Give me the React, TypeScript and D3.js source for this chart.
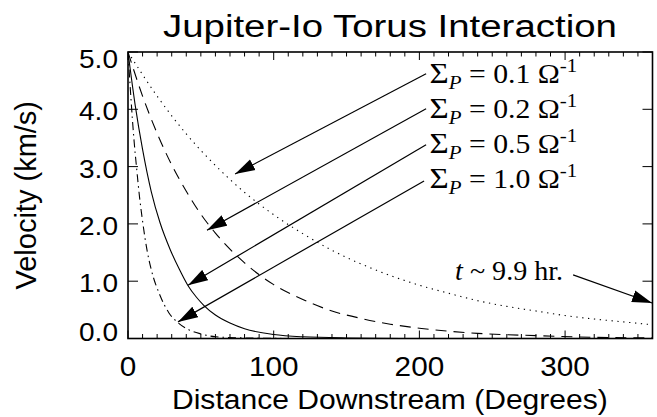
import React, { useRef, useEffect } from "react";
import * as d3 from "d3";

// chart text
const titleText = "Jupiter-Io Torus Interaction";
const xLabelText = "Distance Downstream (Degrees)";
const yLabelText = "Velocity (km/s)";

// axes
const xTicks = [0, 100, 200, 300];
const yTicks = [0, 1, 2, 3, 4, 5];
const yTickLabels = ["0.0", "1.0", "2.0", "3.0", "4.0", "5.0"];

// curves (degrees, km/s)
const dist01 = [0, 20, 40, 60, 80, 100, 120, 140, 160, 180, 200, 220, 240, 260, 280, 300, 320, 340, 360];
const vel01 = [5.0, 4.23, 3.57, 3.02, 2.55, 2.16, 1.83, 1.54, 1.3, 1.1, 0.93, 0.79, 0.66, 0.56, 0.48, 0.4, 0.34, 0.29, 0.24];

const dist02 = [0, 10, 20, 30, 40, 50, 60, 80, 100, 120, 140, 160, 180, 200, 240, 280, 320, 360];
const vel02 = [5.0, 4.23, 3.58, 3.03, 2.57, 2.17, 1.84, 1.32, 0.94, 0.68, 0.48, 0.35, 0.25, 0.18, 0.09, 0.05, 0.02, 0.01];

const dist05 = [0, 5, 10, 16, 22, 29, 35, 41, 47, 52, 60, 70, 80, 100, 120, 150, 200, 360];
const vel05 = [5.0, 4.06, 3.3, 2.56, 2.02, 1.55, 1.22, 0.93, 0.72, 0.58, 0.41, 0.27, 0.17, 0.07, 0.03, 0.01, 0.0, 0.0];

const dist10 = [0, 2, 4, 6, 8, 10, 13, 16, 22, 28, 34.6, 42, 50, 60, 80, 120, 360];
const vel10 = [5.0, 4.2, 3.5, 2.95, 2.45, 2.05, 1.55, 1.2, 0.75, 0.45, 0.27, 0.15, 0.08, 0.03, 0.01, 0.0, 0.0];

const sigmaValues = ["0.1", "0.2", "0.5", "1.0"];

// annotation anchors in data units
const labelDist = 207;
const labelVel = [4.46, 3.85, 3.24, 2.63];
const arrowFrom = [[204.6, 4.62], [204.6, 4.01], [204.6, 3.38], [203.2, 2.75]];
const arrowTo = [[73.5, 2.87], [54.2, 1.89], [41.2, 0.93], [34.3, 0.29]];

const timeLabel = [224.5, 1.02];
const timeArrowFrom = [305.5, 1.11];
const timeArrowTo = [359.7, 0.62];

const series = [
  { dist: dist01, vel: vel01, dash: "1.3 4.6" },
  { dist: dist02, vel: vel02, dash: "11 7" },
  { dist: dist05, vel: vel05, dash: null },
  { dist: dist10, vel: vel10, dash: "8 4 1.5 4" },
];

// stretch a text element horizontally so it covers `target` px, anchored at (ax, ay)
function fitWidth(sel, target, ax, ay, anchor) {
  const node = sel.node();
  const w = node.getComputedTextLength();
  const k = w > 0 ? target / w : 1;
  sel
    .attr("x", 0)
    .attr("y", 0)
    .attr("text-anchor", anchor || "start")
    .attr("transform", `translate(${ax}, ${ay}) scale(${k}, 1)`);
}

const App = () => {
  const d3Container = useRef(null);
  const width = 657;
  const height = 417;

  useEffect(() => {
    if (!d3Container.current) return;
    const svg = d3.select(d3Container.current);
    svg.selectAll("*").remove();

    const margins = { left: 128, right: 4.5, top: 52, bottom: 78.5 };
    const x = d3.scaleLinear().domain([0, 360]).range([margins.left, width - margins.right]);
    const y = d3.scaleLinear().domain([0, 5]).range([height - margins.bottom, margins.top]);
    const sans = "'Liberation Sans', Arial, Helvetica, sans-serif";
    const serif = "'Liberation Serif', 'Times New Roman', serif";

    const defs = svg.append("defs");
    defs
      .append("clipPath")
      .attr("id", "plot-clip")
      .append("rect")
      .attr("x", x(0))
      .attr("y", y(5))
      .attr("width", x(360) - x(0))
      .attr("height", y(0) - y(5));
    defs
      .append("marker")
      .attr("id", "arrowhead")
      .attr("markerUnits", "userSpaceOnUse")
      .attr("markerWidth", 21)
      .attr("markerHeight", 13)
      .attr("refX", 20)
      .attr("refY", 6.5)
      .attr("orient", "auto")
      .append("path")
      .attr("d", "M0,0.5 L20,6.5 L0,12.5 Z")
      .attr("fill", "black");

    // curves
    const line = d3
      .line()
      .x((d) => x(d[0]))
      .y((d) => y(d[1]))
      .curve(d3.curveMonotoneX);

    svg
      .append("g")
      .attr("clip-path", "url(#plot-clip)")
      .selectAll("path")
      .data(series)
      .join("path")
      .attr("d", (s) => line(s.dist.map((d, i) => [d, s.vel[i]])))
      .attr("fill", "none")
      .attr("stroke", "black")
      .attr("stroke-width", 1.1)
      .attr("stroke-dasharray", (s) => s.dash);

    // frame
    svg
      .append("rect")
      .attr("x", x(0))
      .attr("y", y(5))
      .attr("width", x(360) - x(0))
      .attr("height", y(0) - y(5))
      .attr("fill", "none")
      .attr("stroke", "black")
      .attr("stroke-width", 1.6);

    // x ticks, bottom and top
    const xMinor = d3.range(0, 361, 10);
    const tickG = svg.append("g").attr("stroke", "black").attr("stroke-width", 1);
    xMinor.forEach((t) => {
      const len = t % 100 === 0 ? 8 : 4.5;
      tickG.append("line").attr("x1", x(t)).attr("x2", x(t)).attr("y1", y(0)).attr("y2", y(0) - len);
      tickG.append("line").attr("x1", x(t)).attr("x2", x(t)).attr("y1", y(5)).attr("y2", y(5) + len);
    });
    yTicks.forEach((t) => {
      tickG.append("line").attr("x1", x(0)).attr("x2", x(0) + 10).attr("y1", y(t)).attr("y2", y(t));
      tickG.append("line").attr("x1", x(360)).attr("x2", x(360) - 10).attr("y1", y(t)).attr("y2", y(t));
    });

    // tick labels
    xTicks.forEach((d) => {
      const t = svg
        .append("text")
        .attr("font-family", sans)
        .attr("font-size", 27)
        .text(d);
      const w = t.node().getComputedTextLength();
      fitWidth(t, w * 1.1, x(d), y(0) + 37.5, "middle");
    });

    yTicks.forEach((d, i) => {
      const t = svg
        .append("text")
        .attr("font-family", sans)
        .attr("font-size", 26)
        .text(yTickLabels[i]);
      fitWidth(t, 39, 118, y(d) + (d === 5 ? 16 : d === 0 ? 2 : 11), "end");
    });

    // titles
    const title = svg
      .append("text")
      .attr("font-family", sans)
      .attr("font-size", 31)
      .text(titleText);
    fitWidth(title, 454, 163, 37, "start");

    const xLabel = svg
      .append("text")
      .attr("font-family", sans)
      .attr("font-size", 28)
      .text(xLabelText);
    fitWidth(xLabel, 436, 172, 409, "start");

    svg
      .append("text")
      .attr("transform", `translate(36, ${(y(0) + y(5)) / 2}) rotate(-90)`)
      .attr("text-anchor", "middle")
      .attr("font-family", sans)
      .attr("font-size", 29)
      .text(yLabelText);

    // sigma labels
    sigmaValues.forEach((v, i) => {
      const t = svg
        .append("text")
        .attr("transform", `translate(${x(labelDist)}, ${y(labelVel[i])}) scale(1.1, 1)`)
        .attr("font-family", serif)
        .attr("font-size", 27);
      t.append("tspan").attr("font-size", 30).text("\u03A3");
      t.append("tspan").attr("font-size", 19).attr("font-style", "italic").attr("dy", 6).text("P");
      t.append("tspan").attr("dy", -6).text(` = ${v} \u03A9`);
      t.append("tspan").attr("font-size", 19).attr("dy", -11).text("-1");

      svg
        .append("line")
        .attr("x1", x(arrowFrom[i][0]))
        .attr("y1", y(arrowFrom[i][1]))
        .attr("x2", x(arrowTo[i][0]))
        .attr("y2", y(arrowTo[i][1]))
        .attr("stroke", "black")
        .attr("stroke-width", 1.2)
        .attr("marker-end", "url(#arrowhead)");
    });

    // time label
    const tl = svg
      .append("text")
      .attr("transform", `translate(${x(timeLabel[0])}, ${y(timeLabel[1])}) scale(1.04, 1)`)
      .attr("font-family", serif)
      .attr("font-size", 27);
    tl.append("tspan").attr("font-style", "italic").text("t");
    tl.append("tspan").text(" ~ 9.9 hr.");

    svg
      .append("line")
      .attr("x1", x(timeArrowFrom[0]))
      .attr("y1", y(timeArrowFrom[1]))
      .attr("x2", x(timeArrowTo[0]))
      .attr("y2", y(timeArrowTo[1]))
      .attr("stroke", "black")
      .attr("stroke-width", 1.2)
      .attr("marker-end", "url(#arrowhead)");
  }, []);

  return (
    <div style={{ position: "fixed", left: 0, top: 0, width: width, height: height, background: "white" }}>
      <svg width={width} height={height} ref={d3Container} />
    </div>
  );
};

export default App;
